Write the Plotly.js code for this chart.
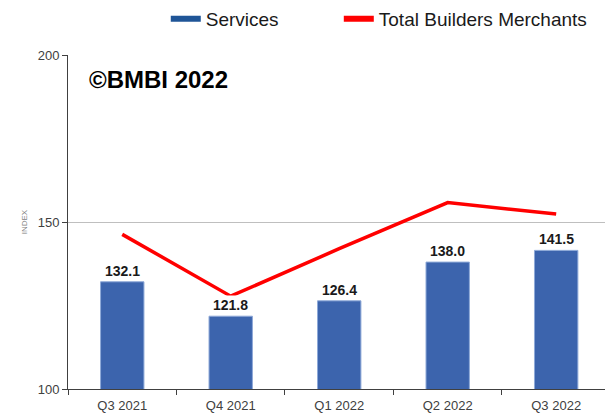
<!DOCTYPE html>
<html>
<head>
<meta charset="utf-8">
<script src="https://cdn.plot.ly/plotly-3.0.1.min.js"></script>
<style>
  html, body { margin: 0; padding: 0; background: #ffffff; }
  #chart { width: 605px; height: 415px; }
</style>
</head>
<body>
<div id="chart"></div>
<script>
/* Services vs Total Builders Merchants index */
var quarters = ['Q3 2021', 'Q4 2021', 'Q1 2022', 'Q2 2022', 'Q3 2022'];
var services = [132.1, 121.8, 126.4, 138.0, 141.5];
var totalBM = [146.3, 127.8, 142.0, 155.8, 152.4];
var seriesNames = ['Services', 'Total Builders Merchants'];

var fontFamily = '"Liberation Sans", Arial, sans-serif';

var data = [
    {
        type: 'bar',
        x: quarters,
        y: services,
        width: 0.4,
        marker: { color: '#3c64ad', line: { color: '#8ea9d8', width: 1 } },
        showlegend: false,
        hoverinfo: 'x+y'
    },
    {
        type: 'scatter',
        mode: 'lines',
        x: quarters,
        y: totalBM,
        line: { color: '#ff0000', width: 3.5 },
        showlegend: false
    },
    // legend-only entries, drawn as thick line swatches
    {
        type: 'scatter',
        mode: 'lines',
        name: seriesNames[0],
        x: [quarters[0]],
        y: [null],
        line: { color: '#1f5597', width: 6 },
        legend: 'legend'
    },
    {
        type: 'scatter',
        mode: 'lines',
        name: seriesNames[1],
        x: [quarters[0]],
        y: [null],
        line: { color: '#ff0000', width: 6 },
        legend: 'legend2'
    }
];

var annotations = [];
for (var i = 0; i < quarters.length; i++)
{
    annotations.push(
        {
            x: quarters[i],
            y: services[i],
            xref: 'x',
            yref: 'y',
            text: services[i].toFixed(1),
            showarrow: false,
            yanchor: 'bottom',
            yshift: 1,
            bgcolor: '#ffffff',
            borderpad: 1,
            font: { family: fontFamily, size: 14, color: '#1a1a1a', weight: 'bold' }
        }
    );
}
annotations.push(
    {
        xref: 'paper',
        yref: 'paper',
        x: 0.035,
        y: 0.928,
        xanchor: 'left',
        yanchor: 'middle',
        text: '<b>©BMBI 2022</b>',
        showarrow: false,
        font: { family: fontFamily, size: 24, color: '#000000' }
    }
);

var legendBase = {
    orientation: 'h',
    xref: 'container',
    yref: 'container',
    y: 1,
    xanchor: 'left',
    yanchor: 'top',
    font: { family: fontFamily, size: 19, color: '#1a1a1a' },
    bgcolor: 'rgba(0,0,0,0)'
};

var layout =
{
    width: 605,
    height: 415,
    margin: { l: 68, r: 0, t: 55, b: 26 },
    paper_bgcolor: '#ffffff',
    plot_bgcolor: '#ffffff',
    font: { family: fontFamily, color: '#404040' },
    showlegend: true,
    legend: Object.assign({}, legendBase, { x: 0.274 }),
    legend2: Object.assign({}, legendBase, { x: 0.56 }),
    xaxis: {
        type: 'category',
        range: [-0.5, 4.45],
        showline: true,
        linecolor: '#404040',
        linewidth: 1,
        ticks: 'outside',
        tickson: 'boundaries',
        ticklen: 5,
        tickcolor: '#404040',
        ticklabelstandoff: 4,
        showgrid: false,
        tickfont: { size: 13, color: '#404040' },
        fixedrange: true
    },
    yaxis: {
        range: [100, 200],
        tickvals: [100, 150, 200],
        showline: true,
        linecolor: '#404040',
        linewidth: 1,
        ticks: 'outside',
        ticklen: 5,
        tickcolor: '#404040',
        showgrid: true,
        gridcolor: '#bfbfbf',
        zeroline: false,
        tickfont: { size: 13, color: '#404040' },
        title: { text: 'INDEX', font: { size: 8, color: '#7f7f7f' }, standoff: 8 },
        fixedrange: true
    },
    annotations: annotations,
    bargap: 0.6
}

var config =
{
    displayModeBar: false,
    responsive: false
}

Plotly.newPlot('chart', data, layout, config);
</script>
</body>
</html>
